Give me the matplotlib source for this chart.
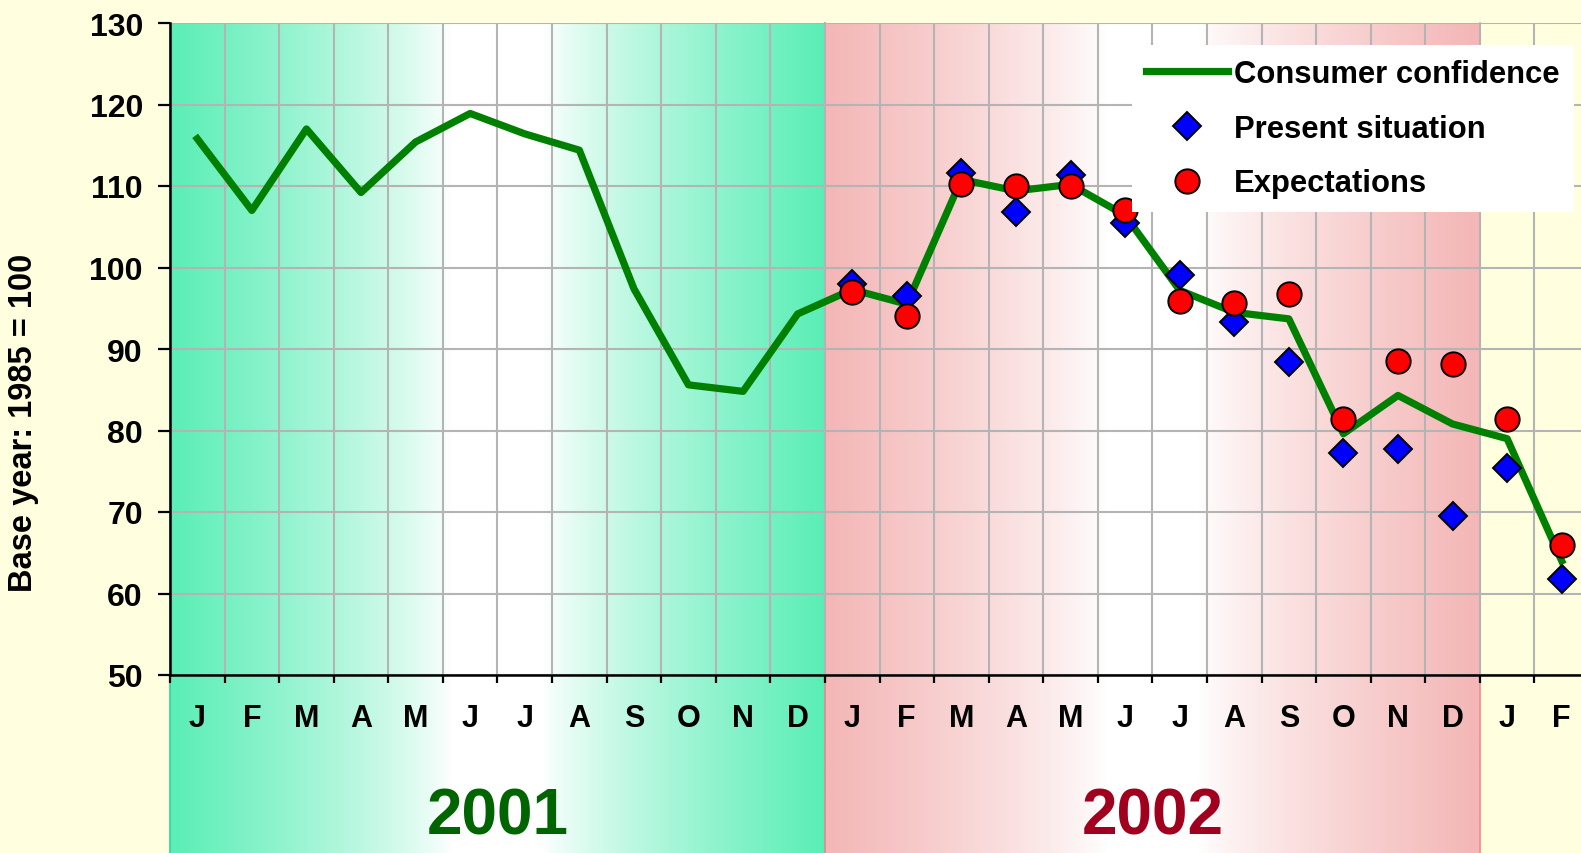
import matplotlib.pyplot as plt
import numpy as np
from matplotlib.colors import to_rgb

# data
months = ['J', 'F', 'M', 'A', 'M', 'J', 'J', 'A', 'S', 'O', 'N', 'D'] * 2 + ['J', 'F']
years = ['2001', '2002']
year_colors = ['#006400', '#A0001E']
band_colors = ['#5AEEB6', '#F4B6B6']
band_edges = ['#2ED49A', '#F08C8C']

confidence = [115.8, 107.0, 117.0, 109.2, 115.4, 118.9, 116.4, 114.4, 97.4, 85.6, 84.8, 94.3,
              97.3, 95.5, 110.8, 109.4, 110.2, 106.4, 97.2, 94.5, 93.7, 79.6, 84.3, 80.8,
              79.0, 64.0]
present = [98.0, 96.5, 111.6, 106.8, 111.3, 105.5, 99.1, 93.3, 88.4, 77.3, 77.7, 69.5,
           75.4, 61.8]
expectations = [97.0, 94.1, 110.2, 110.0, 110.0, 107.1, 95.9, 95.7, 96.7, 81.4, 88.5, 88.2,
                81.4, 65.9]

plt.rcParams['font.family'] = ['Liberation Sans', 'DejaVu Sans']
plt.rcParams['font.weight'] = 'bold'

W, H = 1581, 854
fig = plt.figure(figsize=(W / 100, H / 100), dpi=100)
fig.patch.set_facecolor('#FFFFE0')
ax = fig.add_axes([170 / W, 178 / H, 1419 / W, 652 / H])
ax.set_facecolor('none')

x_all = np.arange(len(confidence))
x_sub = np.arange(12, 12 + len(present))

ax.set_xlim(-0.5, 25.5)
ax.set_ylim(50, 130)
ybot = ax.transData.inverted().transform((0, 0))[1]

# gradient year bands (edge colour -> white in the middle -> edge colour)
u = np.linspace(0, 1, 600)
d = np.abs(u - 0.5)
w = np.clip((d - 0.07) / (0.5 - 0.07), 0, 1) ** 0.8
for i, (col, ecol) in enumerate(zip(band_colors, band_edges)):
    rgb = 1 - (1 - np.array(to_rgb(col)))[None, :] * w[:, None]
    x0, x1 = -0.5 + 12 * i, 11.5 + 12 * i
    ax.imshow(rgb[None, :, :], extent=(x0, x1, ybot, 130), aspect='auto',
              interpolation='bilinear', zorder=0, clip_on=False)
    ax.plot([x0, x0], [ybot, 130], color=ecol, lw=1.2, clip_on=False, zorder=0.2)
    ax.plot([x1, x1], [ybot, 130], color=ecol, lw=1.2, clip_on=False, zorder=0.2)
    ax.text(5.5 + 12 * i, -0.217, years[i], transform=ax.get_xaxis_transform(),
            ha='center', va='center', fontsize=46, fontweight='bold', color=year_colors[i])

ax.set_xlim(-0.5, 25.5)
ax.set_ylim(50, 130)

ax.plot(x_all, confidence, color='#008000', lw=5.2, zorder=3, label='Consumer confidence')
ax.plot(x_sub, present, ls='none', marker='D', ms=14.5, mfc='#0000FF', mec='black',
        mew=1.4, zorder=4, label='Present situation')
ax.plot(x_sub, expectations, ls='none', marker='o', ms=17.5, mfc='#FF0000', mec='black',
        mew=1.4, zorder=5, label='Expectations')

# axes, ticks, grid
ax.set_yticks(np.arange(50, 131, 10))
ax.set_xticks(np.arange(-0.5, 26, 1))
ax.set_xticks(x_all, minor=True)
ax.set_xticklabels(months, minor=True)
ax.tick_params(axis='x', which='major', length=6, width=1.6, labelbottom=False)
ax.tick_params(axis='x', which='minor', length=0, pad=20, labelsize=22)
ax.tick_params(axis='y', length=8.5, width=1.6, pad=11, labelsize=23)
for lab in ax.get_xticklabels(minor=True) + ax.get_yticklabels():
    lab.set_fontweight('bold')
ax.set_axisbelow(True)
ax.grid(True, which='major', color='#B4B4B4', lw=1.5)
for s in ['top', 'right']:
    ax.spines[s].set_visible(False)
for s in ['left', 'bottom']:
    ax.spines[s].set_linewidth(1.8)
    ax.spines[s].set_zorder(2)

ax.set_ylabel('Base year: 1985 = 100', fontsize=23.5, fontweight='bold')
ax.yaxis.set_label_coords(-0.0925, 0.388)

leg = ax.legend(loc='upper left', bbox_to_anchor=(1132 / W, 1 - 46 / H),
                bbox_transform=fig.transFigure, frameon=True, fancybox=False,
                framealpha=1, facecolor='white', edgecolor='none',
                prop=dict(weight='bold', size=22.3), handlelength=2.65,
                handletextpad=0.2, labelspacing=0.8, borderpad=0.45, borderaxespad=0)
leg.set_zorder(6)

fig.savefig('out.png', dpi=100, facecolor=fig.get_facecolor())
